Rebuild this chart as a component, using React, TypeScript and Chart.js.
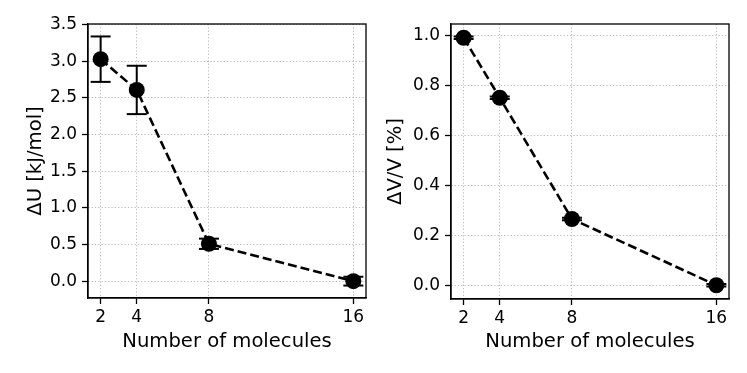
import React, { useEffect, useRef } from "react";
import { Chart, registerables } from "chart.js";

Chart.register(...registerables);

// ---- data ----
const molecules = [2, 4, 8, 16];
const xTicks = [2, 4, 8, 16];
const deltaU = [3.03, 2.61, 0.51, 0.0];
const deltaUErr = [0.31, 0.33, 0.07, 0.06];
const deltaV = [0.99, 0.75, 0.265, 0.0];
const deltaVErr = [0.005, 0.005, 0.005, 0.005];
const uTicks = [0, 0.5, 1.0, 1.5, 2.0, 2.5, 3.0, 3.5];
const vTicks = [0, 0.2, 0.4, 0.6, 0.8, 1.0];

const FONT = "'DejaVu Sans', sans-serif";
const PX_PER_PT = 1.63;

const framePlugin = {
  id: "frame",
  afterDraw(chart: any) {
    const { ctx, chartArea: a } = chart;
    ctx.save();
    ctx.strokeStyle = "#000";
    ctx.lineWidth = 0.8 * PX_PER_PT;
    ctx.strokeRect(a.left, a.top, a.right - a.left, a.bottom - a.top);
    ctx.restore();
  },
};

function margins(vals: number[], errs: number[]) {
  const lo = Math.min(...vals.map((v, i) => v - errs[i]));
  const hi = Math.max(...vals.map((v, i) => v + errs[i]));
  const pad = 0.05 * (hi - lo);
  return [lo - pad, hi + pad];
}

interface PanelProps {
  values: number[];
  errors: number[];
  yTicks: number[];
  yTitle: string;
  width: number;
  height: number;
  yAxisWidth: number;
  xAxisHeight: number;
  padTop: number;
  padRight: number;
  yTitlePad: number;
}

function Panel(p: PanelProps) {
  const ref = useRef<HTMLCanvasElement | null>(null);
  useEffect(() => {
    if (!ref.current) return;
    const [ymin, ymax] = margins(p.values, p.errors);
    const xlo = Math.min(...molecules);
    const xhi = Math.max(...molecules);
    const xpad = 0.05 * (xhi - xlo);

    const errorSets = molecules.map((x, i) => ({
      type: "line" as const,
      data: [
        { x, y: p.values[i] - p.errors[i] },
        { x, y: p.values[i] + p.errors[i] },
      ],
      borderColor: "#000",
      borderWidth: 2,
      pointStyle: "line" as const,
      pointRadius: 10,
      pointBorderWidth: 2,
      pointBorderColor: "#000",
      pointBackgroundColor: "#000",
      order: 2,
    }));

    const gridOpts = {
      color: "rgba(176,176,176,0.85)",
      lineWidth: 1,
      tickColor: "#000",
      tickWidth: 1.3,
      tickLength: 6,
      tickBorderDash: [],
    };
    const borderOpts = { display: true, color: "#000", width: 1.3, dash: [1.3, 2.0] };

    const chart = new Chart(ref.current, {
      type: "line",
      data: {
        datasets: [
          {
            data: molecules.map((x, i) => ({ x, y: p.values[i] })),
            borderColor: "#000",
            borderWidth: 2.6,
            borderDash: [9, 4],
            pointRadius: 8,
            pointBackgroundColor: "#000",
            pointBorderColor: "#000",
            pointBorderWidth: 0,
            order: 0,
          },
          ...errorSets,
        ],
      },
      options: {
        animation: false,
        responsive: false,
        devicePixelRatio: 1,
        layout: { padding: { top: p.padTop, right: p.padRight, left: 0, bottom: 0 } },
        plugins: { legend: { display: false }, tooltip: { enabled: false } },
        scales: {
          x: {
            type: "linear",
            min: xlo - xpad,
            max: xhi + xpad,
            afterBuildTicks: (s: any) => {
              s.ticks = xTicks.map((v) => ({ value: v }));
            },
            afterFit: (s: any) => {
              s.height = p.xAxisHeight;
            },
            ticks: {
              color: "#000",
              font: { family: FONT, size: 17 },
              padding: 3,
              maxRotation: 0,
              callback: (v: any) => String(v),
            },
            grid: gridOpts,
            border: borderOpts,
            title: {
              display: true,
              text: "Number of molecules",
              color: "#000",
              font: { family: FONT, size: 19.6 },
              padding: { top: 0, bottom: 19 },
            },
          },
          y: {
            type: "linear",
            min: ymin,
            max: ymax,
            afterBuildTicks: (s: any) => {
              s.ticks = p.yTicks.map((v) => ({ value: v }));
            },
            afterFit: (s: any) => {
              s.width = p.yAxisWidth;
            },
            ticks: {
              color: "#000",
              font: { family: FONT, size: 17 },
              padding: 5,
              callback: (v: any) => Number(v).toFixed(1),
            },
            grid: gridOpts,
            border: borderOpts,
            title: {
              display: true,
              text: p.yTitle,
              color: "#000",
              font: { family: FONT, size: 19.6 },
              padding: { top: p.yTitlePad, bottom: 0 },
            },
          },
        },
      },
      plugins: [framePlugin],
    } as any);
    return () => chart.destroy();
  }, []);
  return (
    <canvas
      ref={ref}
      width={p.width}
      height={p.height}
      style={{ width: p.width, height: p.height, display: "block" }}
    />
  );
}

export default function App() {
  return (
    <div
      style={{
        position: "fixed",
        left: 0,
        top: 0,
        width: 747,
        height: 373,
        background: "#fff",
        display: "flex",
      }}
    >
      <Panel
        values={deltaU}
        errors={deltaUErr}
        yTicks={uTicks}
        yTitle="ΔU [kJ/mol]"
        width={380}
        height={373}
        yAxisWidth={88}
        xAxisHeight={75}
        padTop={24}
        padRight={14}
        yTitlePad={24}
      />
      <Panel
        values={deltaV}
        errors={deltaVErr}
        yTicks={vTicks}
        yTitle="ΔV/V [%]"
        width={367}
        height={373}
        yAxisWidth={71}
        xAxisHeight={74}
        padTop={24}
        padRight={18}
        yTitlePad={4}
      />
    </div>
  );
}
